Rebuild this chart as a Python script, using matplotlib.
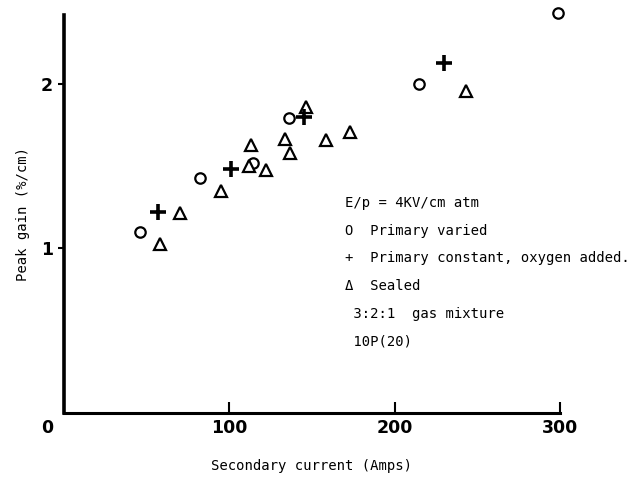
import numpy as np
import matplotlib

matplotlib.use('Agg')
import matplotlib.pyplot as plt
from matplotlib.transforms import ScaledTranslation

# data
circ_x = [46, 82, 114, 136, 215, 299]
circ_y = [1.10, 1.43, 1.52, 1.79, 2.00, 2.43]

plus_x = [57, 101, 145, 230]
plus_y = [1.22, 1.48, 1.80, 2.13]

tri_x = [58, 70, 95, 112, 113, 122, 133.5, 136.5, 146.5, 158.5, 173, 243]
tri_y = [1.03, 1.215, 1.35, 1.50, 1.63, 1.475, 1.665, 1.58, 1.86, 1.66, 1.705, 1.96]

xticks = [0, 100, 200, 300]
yticks = [1, 2]

legend_lines = ['E/p = 4KV/cm atm',
                'O  Primary varied',
                '+  Primary constant, oxygen added.',
                '\u0394  Sealed',
                ' 3:2:1  gas mixture',
                ' 10P(20)']

mono = 'DejaVu Sans Mono'

fig = plt.figure(figsize=(6.29, 4.78), dpi=100)
ax = fig.add_axes([0.102, 0.136, 0.788, 0.833])

ax.plot(circ_x, circ_y, 'o', ms=7.5, mfc='white', mec='black', mew=1.6, ls='none', clip_on=False)
ax.plot(tri_x, tri_y, '^', ms=8, mfc='white', mec='black', mew=1.6, ls='none', clip_on=False)
ax.plot(plus_x, plus_y, '+', ms=11, mec='black', mew=2.6, ls='none', clip_on=False)

ax.set_xlim(0, 300)
ax.set_ylim(0, 2.42)

for s in ['top', 'right']:
    ax.spines[s].set_visible(False)
ax.spines['left'].set_linewidth(2.6)
ax.spines['bottom'].set_linewidth(2.2)

ax.set_xticks(xticks)
ax.set_xticklabels([str(v) for v in xticks], fontsize=12.5, fontweight='bold')
ax.tick_params(axis='x', direction='in', length=8, width=1.5, pad=4)
ax.set_yticks(yticks)
ax.set_yticklabels([str(v) for v in yticks], fontsize=12.5, fontweight='bold')
ax.tick_params(axis='y', direction='out', length=4, width=1.5, pad=4)

# the "0" sits left of the axis corner in the original
lbl0 = ax.get_xticklabels()[0]
lbl0.set_transform(lbl0.get_transform() + ScaledTranslation(-0.17, 0, fig.dpi_scale_trans))
ax.get_xticklines()[0].set_visible(False)
ax.get_xticklines()[1].set_visible(False)

ax.set_xlabel('Secondary current (Amps)', family=mono, fontsize=10, labelpad=16)
ax.set_ylabel('Peak gain (%/cm)', family=mono, fontsize=10, labelpad=8)

y0 = 1 - 203 / 478
for i, line in enumerate(legend_lines):
    fig.text(0.548, y0 - i * 0.0578, line, family=mono, fontsize=10, va='center', ha='left')

fig.savefig('out.png', dpi=100)
